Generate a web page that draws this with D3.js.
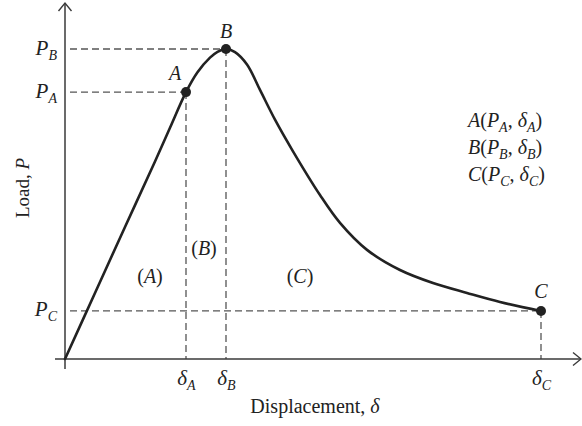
<!DOCTYPE html>
<html>
<head>
<meta charset="utf-8">
<script src="https://cdn.jsdelivr.net/npm/d3@7/dist/d3.min.js"></script>
<style>
  html, body { margin: 0; padding: 0; background: #fff; }
  svg { display: block; }
  text { font-family: "Liberation Serif", "DejaVu Serif", serif; fill: #222; }
</style>
</head>
<body>
<svg id="chart" width="582" height="426"></svg>
<script>
// Load–displacement curve (arbitrary units)
const curveDisp = [0, 0.6, 1.2, 1.8, 2.1, 2.42, 2.65, 2.9, 3.05, 3.22, 3.4, 3.64, 3.9, 4.2, 4.56, 5.1, 5.5, 6.04, 6.7, 7.36, 8.04, 8.7, 9.52];
const curveLoad = [0, 2.13, 4.26, 6.37, 7.46, 8.61, 9.25, 9.72, 9.91, 10.0, 9.9, 9.5, 8.68, 7.72, 6.7, 5.29, 4.39, 3.52, 2.87, 2.45, 2.13, 1.84, 1.55];

// Characteristic points A, B, C
const pointNames = ["A", "B", "C"];
const pointDisp = [2.42, 3.22, 9.52];
const pointLoad = [8.61, 10.0, 1.55];

// Region labels
const regionNames = ["(A)", "(B)", "(C)"];
const regionDisp = [1.7, 2.78, 4.7];
const regionLoad = [2.45, 3.35, 2.45];

const svg = d3.select("#chart");
const x = d3.scaleLinear().domain([0, 10]).range([65, 565]);
const y = d3.scaleLinear().domain([0, 10]).range([359, 49]);

const axisColor = "#3a3a3a";
const dashColor = "#555";

// Dashed guide lines
const g = svg.append("g");
pointNames.forEach((n, i) => {
  g.append("line")
    .attr("x1", x(0) + 5).attr("x2", x(pointDisp[i]))
    .attr("y1", y(pointLoad[i])).attr("y2", y(pointLoad[i]))
    .attr("stroke", dashColor).attr("stroke-width", 1.3)
    .attr("stroke-dasharray", "7,4");
  g.append("line")
    .attr("x1", x(pointDisp[i])).attr("x2", x(pointDisp[i]))
    .attr("y1", y(pointLoad[i])).attr("y2", y(0))
    .attr("stroke", dashColor).attr("stroke-width", 1.3)
    .attr("stroke-dasharray", "7,4");
});

// Axes lines with open arrowheads
svg.append("line").attr("x1", x(0)).attr("x2", x(0))
  .attr("y1", y(0) + 10).attr("y2", 3)
  .attr("stroke", axisColor).attr("stroke-width", 1.5);
svg.append("line").attr("x1", x(0) - 10).attr("x2", 581)
  .attr("y1", y(0)).attr("y2", y(0))
  .attr("stroke", axisColor).attr("stroke-width", 1.5);
svg.append("path")
  .attr("d", `M${x(0) - 6.5},${11} L${x(0)},${3} L${x(0) + 6.5},${11}`)
  .attr("fill", "none").attr("stroke", axisColor).attr("stroke-width", 1.4);
svg.append("path")
  .attr("d", `M${573},${y(0) - 6.5} L${581},${y(0)} L${573},${y(0) + 6.5}`)
  .attr("fill", "none").attr("stroke", axisColor).attr("stroke-width", 1.4);

// Subscripted label helper
function subLabel(sel, main, sub, mainSize, subSize) {
  sel.text(null);
  sel.append("tspan").text(main).attr("font-style", "italic").attr("font-size", mainSize);
  sel.append("tspan").text(sub).attr("font-style", "italic").attr("font-size", subSize).attr("dy", 5);
}

// Bottom axis tick labels (δ values)
const xAxis = d3.axisBottom(x).tickValues(pointDisp).tickSize(0).tickPadding(0);
const gx = svg.append("g").attr("transform", `translate(0,${y(0)})`).call(xAxis);
gx.select(".domain").remove();
gx.selectAll(".tick text")
  .attr("y", 26).attr("dy", 0).attr("text-anchor", "middle")
  .attr("fill", "#222")
  .each(function(d, i) { subLabel(d3.select(this), "δ", pointNames[i], 21, 14); });

// Left axis tick labels (P values)
const yAxis = d3.axisLeft(y).tickValues(pointLoad).tickSize(0).tickPadding(0);
const gy = svg.append("g").attr("transform", `translate(${x(0) - 8},0)`).call(yAxis);
gy.select(".domain").remove();
gy.selectAll(".tick text")
  .attr("dy", 5).attr("x", 0)
  .attr("fill", "#222")
  .each(function(d, i) { subLabel(d3.select(this), "P", pointNames[i], 21, 14); });

// Curve
const data = curveDisp.map((d, i) => [d, curveLoad[i]]);
svg.append("path").datum(data)
  .attr("d", d3.line().x(d => x(d[0])).y(d => y(d[1])).curve(d3.curveCatmullRom.alpha(0.5)))
  .attr("fill", "none").attr("stroke", "#222").attr("stroke-width", 2.6)
  .attr("stroke-linejoin", "round").attr("stroke-linecap", "round");

// Points and their labels
svg.selectAll("circle.pt").data(pointNames).join("circle")
  .attr("class", "pt")
  .attr("cx", (d, i) => x(pointDisp[i]))
  .attr("cy", (d, i) => y(pointLoad[i]))
  .attr("r", 5).attr("fill", "#222");
const labelOffset = [[-11, -12], [0, -11], [0, -13]];
svg.selectAll("text.pt").data(pointNames).join("text")
  .attr("class", "pt")
  .attr("x", (d, i) => x(pointDisp[i]) + labelOffset[i][0])
  .attr("y", (d, i) => y(pointLoad[i]) + labelOffset[i][1])
  .attr("text-anchor", "middle").attr("font-style", "italic").attr("font-size", 20)
  .text(d => d);

// Region labels
svg.selectAll("text.region").data(regionNames).join("text")
  .attr("class", "region")
  .attr("x", (d, i) => x(regionDisp[i]))
  .attr("y", (d, i) => y(regionLoad[i]))
  .attr("text-anchor", "middle").attr("font-size", 20)
  .each(function(d) {
    const t = d3.select(this);
    t.append("tspan").text("(");
    t.append("tspan").text(d.slice(1, 2)).attr("font-style", "italic");
    t.append("tspan").text(")");
  });

// Point definitions block
const legend = svg.append("g");
pointNames.forEach((n, i) => {
  const t = legend.append("text")
    .attr("x", 468).attr("y", 127 + i * 27).attr("font-size", 20);
  t.append("tspan").text(n).attr("font-style", "italic");
  t.append("tspan").text("(");
  t.append("tspan").text("P").attr("font-style", "italic");
  t.append("tspan").text(n).attr("font-style", "italic").attr("font-size", 14).attr("dy", 5);
  t.append("tspan").text(", ").attr("dy", -5);
  t.append("tspan").text("δ").attr("font-style", "italic");
  t.append("tspan").text(n).attr("font-style", "italic").attr("font-size", 14).attr("dy", 5);
  t.append("tspan").text(")").attr("dy", -5);
});

// Axis titles
svg.append("text").attr("x", 315).attr("y", 413)
  .attr("text-anchor", "middle").attr("font-size", 20)
  .text("Displacement, ")
  .append("tspan").text("δ").attr("font-style", "italic");
svg.append("text")
  .attr("transform", "translate(29,188) rotate(-90)")
  .attr("text-anchor", "middle").attr("font-size", 19)
  .text("Load, ")
  .append("tspan").text("P").attr("font-style", "italic");
</script>
</body>
</html>
